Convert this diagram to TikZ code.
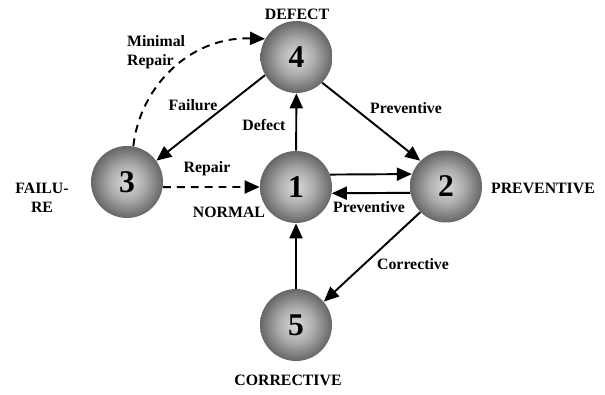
\documentclass[tikz,border=0pt]{standalone}
\usepackage{fontspec}
\setmainfont{Liberation Serif}
\usetikzlibrary{arrows.meta}
\pgfdeclareradialshading{sphere}{\pgfpoint{0bp}{0bp}}{color(0bp)=(black!14); color(12.5bp)=(black!33); color(25bp)=(black!60); color(50bp)=(black!60)}

\begin{document}
\begin{tikzpicture}[
    state/.style={circle, minimum size=1.44cm, inner sep=0pt, shade, shading=sphere,
        font=\fontsize{18}{18}\selectfont\bfseries},
    lbl/.style={font=\fontsize{9}{10.6}\selectfont\bfseries, inner sep=1pt, align=center},
    trans/.style={line width=1.1pt, -{Triangle[length=3mm,width=2.6mm]}},
    dsh/.style={trans, dash pattern=on 4.5pt off 3.4pt}
]
    \useasboundingbox (0,0) rectangle (12.1,7.88);

    \node[state] (S4) at (5.93,6.74) {4};
    \node[state] (S1) at (5.92,4.14) {1};
    \node[state] (S2) at (8.92,4.15) {2};
    \node[state] (S3) at (2.54,4.24) {3};
    \node[state] (S5) at (5.92,1.38) {5};

    \node[lbl] (defect) at (5.94,7.6)  {DEFECT};
    \node[lbl] (failure) at (0.84,3.92) {FAILU-\\RE};
    \node[lbl] (normal) at (4.58,3.64) {NORMAL};
    \node[lbl] (prev)   at (10.86,4.12) {PREVENTIVE};
    \node[lbl] (corr)   at (5.76,0.28) {CORRECTIVE};

    \draw[trans] (S1) -- (S4);
    \draw[trans] (S4.210) -- (S3.36);
    \draw[trans] (S4.-45) -- (S2.135);
    \draw[trans] (S1.20) -- (S2.160);
    \draw[trans] (S2.190) -- (S1.-10);
    \draw[trans] (S2.225) -- (S5.40);
    \draw[trans] (S5) -- (S1);
    \draw[dsh] (S3.-8) -- (S1.west);
    \draw[dsh] (S3.80) .. controls (2.8,6.15) and (3.8,7.15) .. (S4.150);

    \node[lbl, anchor=west, align=left] (lminrep) at (2.5,6.84) {Minimal\\Repair};
    \node[lbl] (lfail)  at (3.86,5.78) {Failure};
    \node[lbl] (ldef)   at (5.28,5.38) {Defect};
    \node[lbl] (lprev1) at (8.12,5.72) {Preventive};
    \node[lbl] (lrep)   at (4.14,4.5)  {Repair};
    \node[lbl] (lprev2) at (7.38,3.74) {Preventive};
    \node[lbl] (lcorr)  at (8.26,2.6)  {Corrective};
\end{tikzpicture}
\end{document}
